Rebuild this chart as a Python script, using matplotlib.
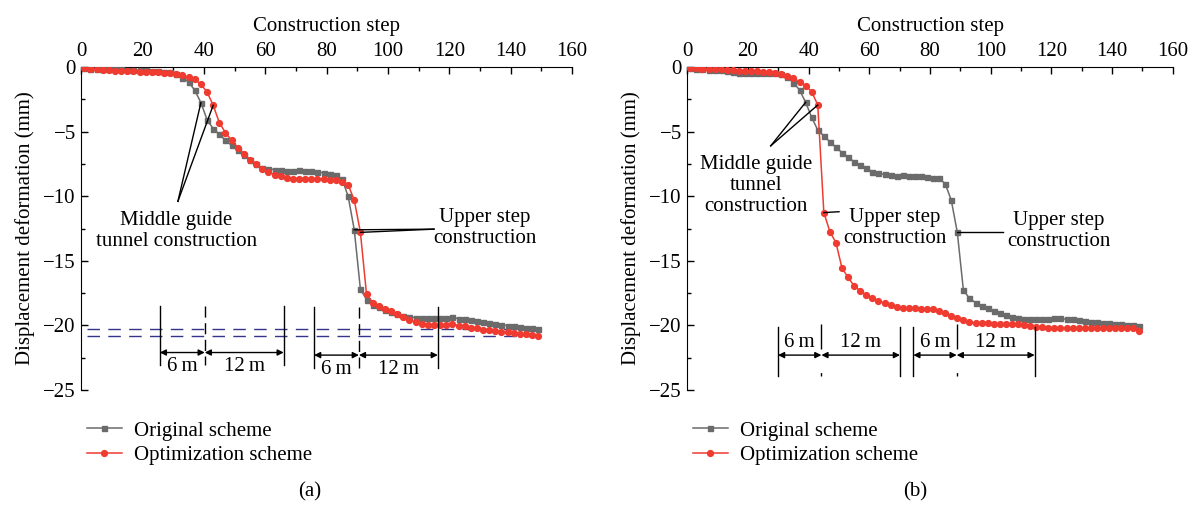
import numpy as np
import matplotlib
matplotlib.use("Agg")
import matplotlib.pyplot as plt

plt.rcParams["font.family"] = ["Liberation Serif", "DejaVu Serif"]
plt.rcParams["font.size"] = 15

# construction steps (every second step)
steps = np.arange(1, 150, 2)

# panel (a)
orig_a = [-0.10, -0.12, -0.13, -0.15, -0.16, -0.18, -0.19, -0.20, -0.22, -0.24, -0.26, -0.28, -0.31, -0.35, -0.42, -0.55,
          -0.82, -1.16, -1.80, -2.76, -4.07, -4.77, -5.21, -5.67, -6.06,
          -6.45, -6.84, -7.17, -7.53, -7.79, -7.87, -7.94, -8.00, -8.05, -8.07,
          -8.00, -8.07, -8.07, -8.10, -8.20, -8.25, -8.38, -8.65, -10.0, -12.6,
          -17.2, -18.0, -18.42, -18.58, -18.78, -18.96, -19.09, -19.24, -19.35, -19.40,
          -19.43, -19.46, -19.46, -19.46, -19.46, -19.38, -19.48, -19.53, -19.58, -19.63,
          -19.71, -19.79, -19.87, -19.94, -20.02, -20.07, -20.12, -20.17, -20.22, -20.27]
opt_a = [-0.10, -0.14, -0.18, -0.21, -0.24, -0.27, -0.29, -0.31, -0.33, -0.35, -0.37, -0.39, -0.40, -0.43, -0.46, -0.52,
         -0.65, -0.77, -0.95, -1.34, -1.93, -2.96, -4.30, -5.08, -5.67,
         -6.24, -6.70, -7.17, -7.53, -7.87, -8.12, -8.33, -8.46, -8.56, -8.64,
         -8.64, -8.64, -8.64, -8.64, -8.66, -8.72, -8.78, -8.88, -9.12, -10.3,
         -12.8, -17.6, -18.23, -18.52, -18.72, -18.90, -19.14, -19.35, -19.56, -19.74,
         -19.87, -19.94, -19.99, -19.99, -19.97, -19.92, -20.02, -20.07, -20.17, -20.22,
         -20.33, -20.38, -20.43, -20.48, -20.53, -20.58, -20.64, -20.66, -20.71, -20.79]

# panel (b)
orig_b = [-0.10, -0.15, -0.18, -0.20, -0.22, -0.24, -0.30, -0.42, -0.45, -0.45, -0.45, -0.45, -0.45, -0.45, -0.47, -0.55,
          -0.80, -1.21, -1.78, -2.73, -3.90, -4.88, -5.34, -5.78, -6.22,
          -6.63, -6.99, -7.33, -7.59, -7.84, -8.10, -8.23, -8.31, -8.38, -8.44,
          -8.38, -8.41, -8.44, -8.44, -8.49, -8.57, -8.62, -9.03, -10.3, -12.8,
          -17.26, -17.91, -18.24, -18.50, -18.68, -18.85, -19.02, -19.20, -19.33, -19.45,
          -19.50, -19.53, -19.53, -19.53, -19.50, -19.40, -19.45, -19.53, -19.53, -19.58,
          -19.66, -19.71, -19.76, -19.79, -19.84, -19.89, -19.92, -19.97, -19.97, -20.02]
opt_b = [-0.05, -0.10, -0.12, -0.14, -0.16, -0.18, -0.20, -0.24, -0.27, -0.30, -0.32, -0.34, -0.36, -0.41, -0.44, -0.54,
         -0.70, -0.88, -1.13, -1.44, -1.91, -2.94, -11.27, -12.74, -13.60,
         -15.58, -16.28, -16.95, -17.31, -17.65, -17.90, -18.09, -18.29, -18.45, -18.55,
         -18.65, -18.68, -18.68, -18.70, -18.70, -18.76, -18.86, -19.07, -19.27, -19.45,
         -19.60, -19.76, -19.84, -19.84, -19.84, -19.86, -19.86, -19.87, -19.89, -19.92,
         -19.97, -20.02, -20.10, -20.15, -20.17, -20.20, -20.22, -20.22, -20.22, -20.22,
         -20.22, -20.22, -20.22, -20.22, -20.22, -20.22, -20.22, -20.22, -20.24, -20.43]

series_labels = ["Original scheme", "Optimization scheme"]
GRAY = "#6b6b6b"
RED = "#ef3b30"
NAVY = "#34348a"


def val(arr, step):
    return arr[list(steps).index(step)]


def setup(ax, orig, opt):
    ax.plot(steps, orig, color=GRAY, lw=1.1, marker="s", ms=3.6, label=series_labels[0], zorder=3)
    ax.plot(steps, opt, color=RED, lw=1.1, marker="o", ms=4.2, label=series_labels[1], zorder=4)
    ax.set_xlim(0, 160)
    ax.set_ylim(-25, 0)
    ax.xaxis.tick_top()
    ax.xaxis.set_label_position("top")
    ax.set_xticks(np.arange(0, 161, 20))
    ax.set_xticks(np.arange(0, 161, 10), minor=True)
    ax.set_yticks(np.arange(-25, 1, 5))
    ax.set_yticks(np.arange(-25, 1, 2.5), minor=True)
    ax.tick_params(which="both", direction="in", width=1, pad=4)
    ax.tick_params(which="major", length=5)
    ax.tick_params(which="minor", length=3)
    ax.spines["bottom"].set_visible(False)
    ax.spines["right"].set_visible(False)
    ax.set_xlabel("Construction step", labelpad=8)
    ax.set_ylabel("Displacement deformation (mm)", labelpad=6)
    ax.legend(loc="upper left", bbox_to_anchor=(-0.005, -0.07), frameon=False,
              handlelength=1.65, handletextpad=0.6, labelspacing=0.25, borderaxespad=0)


def line(ax, p0, p1, color="k", ls="-", lw=1.0):
    ax.plot([p0[0], p1[0]], [p0[1], p1[1]], color=color, ls=ls, lw=lw, zorder=5)


def darrow(ax, x0, x1, y):
    ax.annotate("", xy=(x1, y), xytext=(x0, y),
                arrowprops=dict(arrowstyle="<|-|>", color="k", lw=1.0,
                                mutation_scale=9, shrinkA=0, shrinkB=0))


fig = plt.figure(figsize=(11.97, 5.07), dpi=100)
ax_a = fig.add_axes([0.0679, 0.2308, 0.410, 0.637])
ax_b = fig.add_axes([0.5742, 0.2308, 0.4055, 0.637])

setup(ax_a, orig_a, opt_a)
setup(ax_b, orig_b, opt_b)

# (a): final settlement levels, stage labels, excavation spacing
ax_a.hlines([orig_a[-1], opt_a[-1]], 2, steps[-1], colors=NAVY, lw=1.0,
            linestyles=(0, (9, 6)), zorder=2)
line(ax_a, (31.5, -10.4), (39, val(orig_a, 39)))
line(ax_a, (31.5, -10.4), (43, val(opt_a, 43)))
ax_a.text(31, -12.7, "Middle guide\ntunnel construction", ha="center", va="center",
          multialignment="center", linespacing=1.15)
line(ax_a, (89, val(orig_a, 89)), (115, -12.55))
line(ax_a, (91, val(opt_a, 91)), (115, -12.55))
ax_a.text(131.5, -12.45, "Upper step\nconstruction", ha="center", va="center",
          multialignment="center", linespacing=1.15)

for xs, top, bot, ya in [((25.6, 40.25, 66.0), -18.5, -23.1, -22.1),
                         ((75.9, 90.5, 116.25), -18.6, -23.3, -22.3)]:
    line(ax_a, (xs[0], top), (xs[0], bot))
    line(ax_a, (xs[1], top), (xs[1], bot), ls=(0, (8, 4)))
    line(ax_a, (xs[2], top), (xs[2], bot))
    darrow(ax_a, xs[0], xs[1], ya)
    darrow(ax_a, xs[1], xs[2], ya)
    ax_a.text((xs[0] + xs[1]) / 2, ya - 1.1, "6\u2009m", ha="center", va="center")
    ax_a.text((xs[1] + xs[2]) / 2, ya - 1.1, "12\u2009m", ha="center", va="center")

# (b): stage labels, excavation spacing
line(ax_b, (27.5, -6.1), (39, val(orig_b, 39)))
line(ax_b, (27.5, -6.1), (43, val(opt_b, 43)))
ax_b.text(22.7, -9.2, "Middle guide\ntunnel\nconstruction", ha="center", va="center",
          multialignment="center", linespacing=1.15)
line(ax_b, (45, val(opt_b, 45)), (50, -11.2))
ax_b.text(68.5, -12.45, "Upper step\nconstruction", ha="center", va="center",
          multialignment="center", linespacing=1.15)
line(ax_b, (89, val(orig_b, 89)), (104, -12.8))
ax_b.text(122.5, -12.7, "Upper step\nconstruction", ha="center", va="center",
          multialignment="center", linespacing=1.15)

for xs in [(29.9, 44.2, 70.1), (74.5, 88.8, 114.5)]:
    line(ax_b, (xs[0], -20.1), (xs[0], -23.9))
    line(ax_b, (xs[1], -19.9), (xs[1], -23.9), ls=(0, (18, 17)))
    line(ax_b, (xs[2], -20.1), (xs[2], -23.9))
    darrow(ax_b, xs[0], xs[1], -22.3)
    darrow(ax_b, xs[1], xs[2], -22.3)
    ax_b.text((xs[0] + xs[1]) / 2, -21.3, "6\u2009m", ha="center", va="center")
    ax_b.text((xs[1] + xs[2]) / 2, -21.3, "12\u2009m", ha="center", va="center")

fig.text(310 / 1197, 1 - 492 / 507, "(a)", ha="center", va="center")
fig.text(915 / 1197, 1 - 492 / 507, "(b)", ha="center", va="center")

fig.savefig("out.png", dpi=100)
